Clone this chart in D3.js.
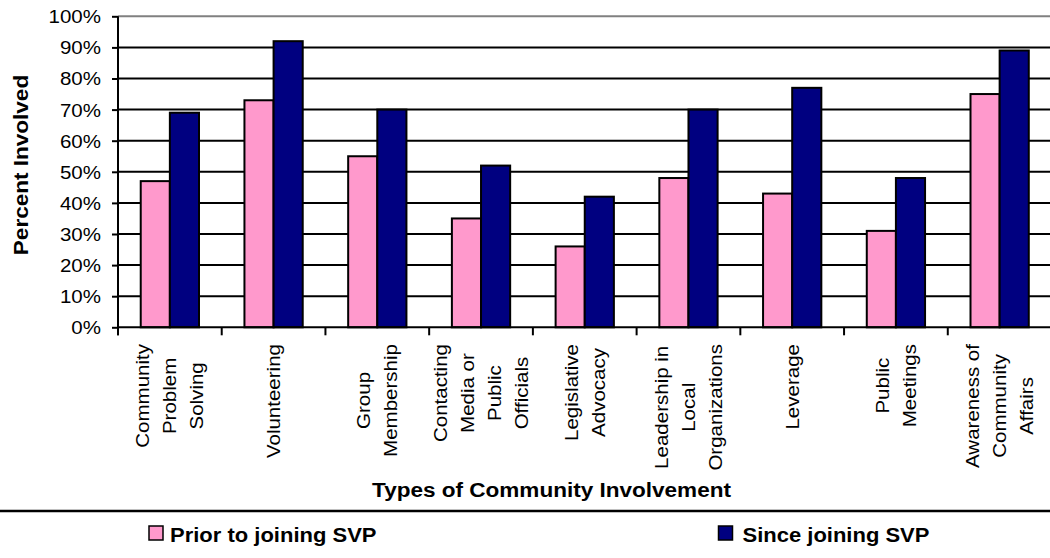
<!DOCTYPE html>
<html>
<head>
<meta charset="utf-8">
<script src="https://cdn.jsdelivr.net/npm/d3@7"></script>
<style>
  html, body { margin: 0; padding: 0; background: #fff; }
  svg { display: block; font-family: "Liberation Sans", Arial, sans-serif; }
</style>
</head>
<body>
<svg id="chart" width="1050" height="558"></svg>
<script>
// Types of community involvement (line breaks as shown under the axis)
const categories = [
  ["Community", "Problem", "Solving"],
  ["Volunteering"],
  ["Group", "Membership"],
  ["Contacting", "Media or", "Public", "Officials"],
  ["Legislative", "Advocacy"],
  ["Leadership in", "Local", "Organizations"],
  ["Leverage"],
  ["Public", "Meetings"],
  ["Awareness of", "Community", "Affairs"]
];
const seriesNames = ["Prior to joining SVP", "Since joining SVP"];
const priorValues = [0.47, 0.73, 0.55, 0.35, 0.26, 0.48, 0.43, 0.31, 0.75];
const sinceValues = [0.69, 0.92, 0.70, 0.52, 0.42, 0.70, 0.77, 0.48, 0.89];
const yTicks = [0, 0.1, 0.2, 0.3, 0.4, 0.5, 0.6, 0.7, 0.8, 0.9, 1.0];
const seriesColors = ["#FF99CC", "#000080"];

const svg = d3.select("#chart");
const SX = 1.14; // horizontal glyph stretch of the chart lettering

const keys = categories.map(c => c.join(" "));
const plotLeft = 118, plotRight = 1051.5, plotTop = 16.3, plotBottom = 327.3;

const x0 = d3.scaleBand().domain(keys).range([plotLeft, plotRight]).paddingInner(0).paddingOuter(0);
const x1 = d3.scaleBand().domain(seriesNames).range([0, x0.bandwidth()]).paddingInner(0).paddingOuter(0.78);
const y = d3.scaleLinear().domain([0, 1]).range([plotBottom, plotTop]);

// Gridlines
svg.append("g").selectAll("line").data(yTicks.filter(t => t > 0)).join("line")
  .attr("x1", plotLeft).attr("x2", 1050)
  .attr("y1", d => y(d)).attr("y2", d => y(d))
  .attr("stroke", d => d === 1 ? "#808080" : "#000")
  .attr("stroke-width", 2);

// Bars
const rows = keys.map((k, i) => ({ key: k, values: [priorValues[i], sinceValues[i]] }));
const groups = svg.append("g").selectAll("g").data(rows).join("g")
  .attr("transform", d => `translate(${x0(d.key)},0)`);
groups.selectAll("rect").data(d => d.values.map((v, j) => ({ s: seriesNames[j], v, j })))
  .join("rect")
  .attr("x", d => x1(d.s))
  .attr("width", x1.bandwidth())
  .attr("y", d => y(d.v))
  .attr("height", d => y(0) - y(d.v))
  .attr("fill", d => seriesColors[d.j])
  .attr("stroke", "#000")
  .attr("stroke-width", 2);

// Y axis
const yAxis = d3.axisLeft(y).tickValues(yTicks).tickSize(6).tickFormat(d3.format(".0%"));
const yg = svg.append("g").attr("transform", `translate(${plotLeft},0)`).call(yAxis);
yg.select(".domain").attr("stroke", "#000").attr("stroke-width", 2).attr("d", `M0,${plotTop}V${plotBottom + 8}`);
yg.selectAll(".tick line").attr("stroke", "#000").attr("stroke-width", 2);
yg.selectAll(".tick text")
  .attr("x", null).attr("dy", null)
  .attr("text-anchor", "end")
  .attr("transform", `translate(-17,6.4) scale(${SX},1)`)
  .style("font-family", "'Liberation Sans', Arial, sans-serif")
  .style("font-size", "18px")
  .attr("fill", "#000");

// X axis (ticks at category boundaries)
const bounds = keys.map(k => x0(k));
svg.append("line").attr("x1", plotLeft).attr("x2", 1050).attr("y1", plotBottom).attr("y2", plotBottom)
  .attr("stroke", "#000").attr("stroke-width", 2);
svg.append("g").selectAll("line").data(bounds).join("line")
  .attr("x1", d => d).attr("x2", d => d).attr("y1", plotBottom).attr("y2", plotBottom + 8)
  .attr("stroke", "#000").attr("stroke-width", 2);

// Category labels, rotated, lines centred on the longest line
const lineGap = 27;
categories.forEach((lines, i) => {
  const cx = x0(keys[i]) + x0.bandwidth() / 2;
  const g = svg.append("g");
  const texts = lines.map(ln => g.append("text")
    .text(ln)
    .attr("text-anchor", "middle")
    .style("font-size", "18px")
    .attr("fill", "#000"));
  const longest = d3.max(texts, t => t.node().getComputedTextLength()) * SX;
  const cy = 344 + longest / 2;
  texts.forEach((t, j) => {
    const bx = cx + (j - (lines.length - 1) / 2) * lineGap + 6.5;
    t.attr("transform", `translate(${bx},${cy}) rotate(-90) scale(${SX},1)`);
  });
});

// Axis titles
svg.append("text").text("Types of Community Involvement")
  .attr("text-anchor", "middle")
  .attr("transform", `translate(551.5,496.5) scale(1.1,1)`)
  .style("font-size", "20.5px").style("font-weight", "bold").attr("fill", "#000");
svg.append("text").text("Percent Involved")
  .attr("text-anchor", "middle")
  .attr("transform", `translate(28,165) rotate(-90) scale(1.1,1)`)
  .style("font-size", "20.5px").style("font-weight", "bold").attr("fill", "#000");

// Separator above the legend
svg.append("line").attr("x1", 0).attr("x2", 1050).attr("y1", 511).attr("y2", 511)
  .attr("stroke", "#000").attr("stroke-width", 2.5);

// Legend
const legendPos = [{ bx: 149, tx: 170 }, { bx: 718.5, tx: 742.5 }];
const legend = svg.append("g").selectAll("g").data(seriesNames).join("g");
legend.append("rect")
  .attr("x", (d, i) => legendPos[i].bx).attr("y", 526)
  .attr("width", 14).attr("height", 14)
  .attr("fill", (d, i) => seriesColors[i])
  .attr("stroke", "#000").attr("stroke-width", 1.5);
legend.append("text").text(d => d)
  .attr("transform", (d, i) => `translate(${legendPos[i].tx},541.5) scale(1.1,1)`)
  .style("font-size", "20px").style("font-weight", "bold").attr("fill", "#000");
</script>
</body>
</html>
